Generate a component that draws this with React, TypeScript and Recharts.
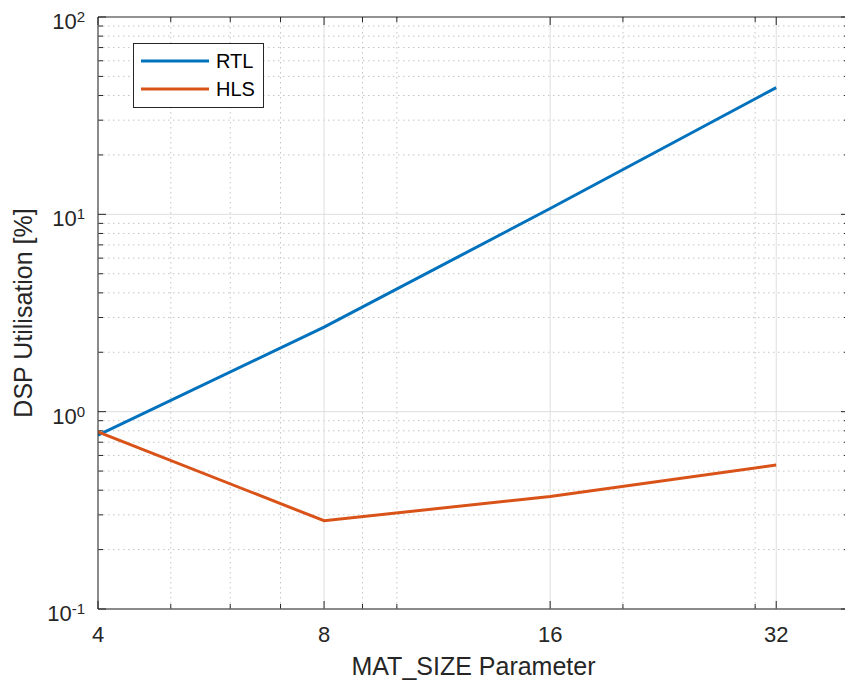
import React from 'react';
import { LineChart, Line, XAxis, YAxis, ReferenceLine, Legend } from 'recharts';

// ---- data ----
const matSize = [4, 8, 16, 32];
const rtlValues = [0.76, 2.68, 10.7, 43.9];
const hlsValues = [0.79, 0.28, 0.372, 0.537];

const seriesNames = ['RTL', 'HLS'];
const seriesKeys = ['rtl', 'hls'];
const seriesColors = ['#0072BD', '#D95319'];

// ---- axes ----
const xDomain = [4, 40];
const yDomain = [0.1, 100];
const xTickValues = [4, 8, 16, 32];
const xTickLabels = ['4', '8', '16', '32'];
const yTickValues = [0.1, 1, 10, 100];
const yTickBases = ['10', '10', '10', '10'];
const yTickExponents = ['-1', '0', '1', '2'];
const xMinorTicks = [5, 6, 7, 9, 10, 20, 30];
const yMinorTicks = [
  0.2, 0.3, 0.4, 0.5, 0.6, 0.7, 0.8, 0.9,
  2, 3, 4, 5, 6, 7, 8, 9,
  20, 30, 40, 50, 60, 70, 80, 90,
];
const xAxisTitle = 'MAT_SIZE Parameter';
const yAxisTitle = 'DSP Utilisation [%]';

const data = matSize.map((m, i) => ({ m, rtl: rtlValues[i], hls: hlsValues[i] }));

const FONT = '"Liberation Sans", Arial, Helvetica, sans-serif';
const AX = '#262626';
const MAJOR_GRID = '#dedede';
const MINOR_GRID = '#c4c4c4';

const XTick = (props: any) => {
  const { x, y, index } = props;
  return (
    <text x={x} y={y + 33} textAnchor="middle" fontSize={22} fill={AX} fontFamily={FONT}>
      {xTickLabels[index]}
    </text>
  );
};

const YTick = (props: any) => {
  const { x, y, index } = props;
  return (
    <text x={x - 13} y={y + 12} textAnchor="end" fontSize={22} fill={AX} fontFamily={FONT}>
      {yTickBases[index]}
      <tspan dy={-7} fontSize={15}>{yTickExponents[index]}</tspan>
    </text>
  );
};

const vShape = (major: boolean) => (p: any) => {
  const x = p.x1;
  const top = Math.min(p.y1, p.y2);
  const bottom = Math.max(p.y1, p.y2);
  const L = major ? 8 : 5;
  return (
    <g>
      <line
        x1={x}
        x2={x}
        y1={top}
        y2={bottom}
        stroke={major ? MAJOR_GRID : MINOR_GRID}
        strokeWidth={1}
        strokeDasharray={major ? undefined : '1.5 3.5'}
      />
      <line x1={x} x2={x} y1={bottom} y2={bottom - L} stroke={AX} strokeWidth={1} />
      <line x1={x} x2={x} y1={top} y2={top + L} stroke={AX} strokeWidth={1} />
    </g>
  );
};

const hShape = (major: boolean, border = false) => (p: any) => {
  const y = p.y1;
  const left = Math.min(p.x1, p.x2);
  const right = Math.max(p.x1, p.x2);
  const L = major ? 8 : 5;
  return (
    <g>
      {border ? (
        <line x1={left} x2={right} y1={y} y2={y} stroke={AX} strokeWidth={1} />
      ) : (
        <line
          x1={left}
          x2={right}
          y1={y}
          y2={y}
          stroke={major ? MAJOR_GRID : MINOR_GRID}
          strokeWidth={1}
          strokeDasharray={major ? undefined : '1.5 3.5'}
        />
      )}
      <line x1={left} x2={left + L} y1={y} y2={y} stroke={AX} strokeWidth={1} />
      <line x1={right} x2={right - L} y1={y} y2={y} stroke={AX} strokeWidth={1} />
    </g>
  );
};

const LegendBox = () => (
  <svg width={131} height={65} style={{ display: 'block' }}>
    <rect x={0.5} y={0.5} width={130} height={64} fill="#ffffff" stroke={AX} strokeWidth={1} />
    {seriesNames.map((name, i) => (
      <g key={name}>
        <line x1={8} x2={76} y1={18 + i * 28} y2={18 + i * 28} stroke={seriesColors[i]} strokeWidth={3} />
        <text x={83} y={18 + i * 28 + 7} fontSize={20} fill="#000000" fontFamily={FONT}>
          {name}
        </text>
      </g>
    ))}
  </svg>
);

const XLabel = (props: any) => {
  const vb = props.viewBox || {};
  return (
    <text x={vb.x + vb.width / 2} y={vb.y + 66} textAnchor="middle" fontSize={25} fill={AX} fontFamily={FONT}>
      {xAxisTitle}
    </text>
  );
};

const YLabel = (props: any) => {
  const vb = props.viewBox || {};
  const cx = 23;
  const cy = vb.y + vb.height / 2;
  return (
    <text
      x={cx}
      y={cy}
      transform={`rotate(-90 ${cx} ${cy})`}
      textAnchor="middle"
      dominantBaseline="central"
      fontSize={25}
      fill={AX}
      fontFamily={FONT}
    >
      {yAxisTitle}
    </text>
  );
};

export default function App() {
  return (
    <div
      style={{
        position: 'fixed',
        left: 0,
        top: 0,
        width: 845,
        height: 682,
        overflow: 'hidden',
        background: '#ffffff',
      }}
    >
      <LineChart width={859} height={682} data={data} margin={{ top: 17, right: 10, bottom: 0, left: 0 }}>
        <XAxis
          dataKey="m"
          type="number"
          scale="log"
          domain={xDomain}
          ticks={xTickValues}
          interval={0}
          allowDataOverflow
          height={73}
          tickSize={0}
          tickMargin={0}
          tickLine={false}
          tick={<XTick />}
          axisLine={{ stroke: AX, strokeWidth: 1 }}
          label={<XLabel />}
        />
        <YAxis
          type="number"
          scale="log"
          domain={yDomain}
          ticks={yTickValues}
          interval={0}
          allowDataOverflow
          width={98}
          tickSize={0}
          tickMargin={0}
          tickLine={false}
          tick={<YTick />}
          axisLine={{ stroke: AX, strokeWidth: 1 }}
          label={<YLabel />}
        />
        {xMinorTicks.map((v) => (
          <ReferenceLine key={`xm${v}`} x={v} shape={vShape(false)} />
        ))}
        {yMinorTicks.map((v) => (
          <ReferenceLine key={`ym${v}`} y={v} shape={hShape(false)} />
        ))}
        {xTickValues.map((v) => (
          <ReferenceLine key={`xM${v}`} x={v} shape={vShape(true)} />
        ))}
        {yTickValues.map((v) => (
          <ReferenceLine key={`yM${v}`} y={v} shape={hShape(true, v === yDomain[1])} />
        ))}
        {seriesKeys.map((k, i) => (
          <Line
            key={k}
            dataKey={k}
            name={seriesNames[i]}
            type="linear"
            stroke={seriesColors[i]}
            strokeWidth={3}
            dot={false}
            isAnimationActive={false}
          />
        ))}
        <Legend
          layout="vertical"
          align="center"
          verticalAlign="middle"
          content={<LegendBox />}
          wrapperStyle={{ left: 133, top: 43, width: 131, height: 65 }}
        />
      </LineChart>
    </div>
  );
}
